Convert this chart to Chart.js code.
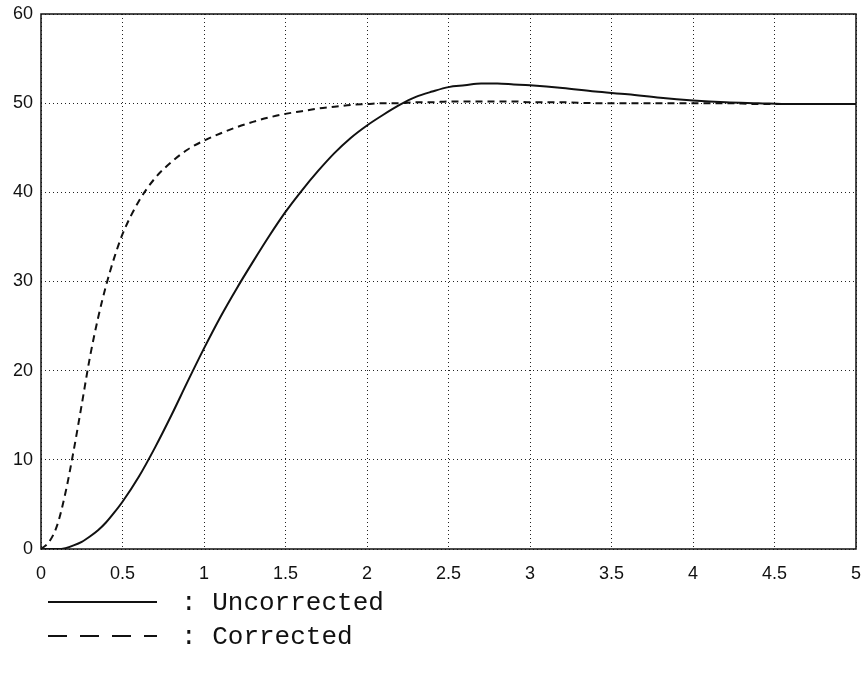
<!DOCTYPE html>
<html>
<head>
<meta charset="utf-8">
<script src="https://cdn.jsdelivr.net/npm/chart.js@4"></script>
<style>
  body { margin: 0; background: #fff; }
  #wrap { position: relative; width: 862px; height: 697px; }
</style>
</head>
<body>
<div id="wrap"><canvas id="chart"></canvas></div>
<script>
// time axis samples (shared by both curves)
const timeValues = [0, 0.05, 0.1, 0.15, 0.2, 0.25, 0.3, 0.35, 0.4, 0.45, 0.5, 0.6, 0.7, 0.8, 0.9,
    1.0, 1.1, 1.2, 1.3, 1.4, 1.5, 1.6, 1.7, 1.8, 1.9, 2.0, 2.1, 2.2, 2.3, 2.4, 2.5, 2.6, 2.7,
    2.8, 2.9, 3.0, 3.2, 3.4, 3.6, 3.8, 4.0, 4.2, 4.4, 4.6, 4.8, 5.0];

const uncorrectedValues = [0, 0, 0, 0.1, 0.4, 0.8, 1.4, 2.1, 3.0, 4.1, 5.3, 8.1, 11.4, 15.0, 18.8,
    22.5, 26.0, 29.2, 32.2, 35.1, 37.8, 40.2, 42.4, 44.4, 46.1, 47.5, 48.7, 49.8, 50.7, 51.3, 51.8, 52.0, 52.2,
    52.2, 52.1, 52.0, 51.7, 51.3, 51.0, 50.6, 50.3, 50.1, 50.0, 49.9, 49.9, 49.9];

const correctedValues = [0, 0.8, 2.7, 6.3, 11.0, 16.2, 21.5, 25.9, 29.6, 32.7, 35.3, 39.0, 41.6, 43.4, 44.8,
    45.8, 46.6, 47.3, 47.9, 48.4, 48.8, 49.1, 49.4, 49.6, 49.8, 49.9, 50.0, 50.0, 50.1, 50.1, 50.2, 50.2, 50.2,
    50.2, 50.2, 50.1, 50.1, 50.0, 50.0, 50.0, 50.0, 50.0, 49.9, 49.9, 49.9, 49.9];

const seriesLabels = ["Uncorrected", "Corrected"];
const xTickLabels = ["0", "0.5", "1", "1.5", "2", "2.5", "3", "3.5", "4", "4.5", "5"];
const yTickLabels = ["0", "10", "20", "30", "40", "50", "60"];

function toPoints(ys) {
    return ys.map((y, i) => ({ x: timeValues[i], y: y }));
}

// box around the plot + the legend drawn under the axis
const framePlugin = {
    id: "frame",
    afterDraw(chart) {
        const ctx = chart.ctx;
        const a = chart.chartArea;
        ctx.save();
        ctx.strokeStyle = "#111";
        ctx.lineWidth = 1.5;
        ctx.setLineDash([]);
        ctx.strokeRect(a.left, a.top, a.right - a.left, a.bottom - a.top);

        const rows = [
            { y: 602, dash: [], text: ": " + seriesLabels[0] },
            { y: 636, dash: [19, 13], text: ": " + seriesLabels[1] }
        ];
        rows.forEach(r => {
            ctx.beginPath();
            ctx.setLineDash(r.dash);
            ctx.lineWidth = 2;
            ctx.moveTo(48, r.y);
            ctx.lineTo(157, r.y);
            ctx.stroke();
            ctx.setLineDash([]);
            ctx.fillStyle = "#111";
            ctx.font = "26px 'Liberation Mono', monospace";
            ctx.textBaseline = "middle";
            ctx.fillText(r.text, 181, r.y + 1);
        });
        ctx.restore();
    }
};

const ctx = document.getElementById("chart").getContext("2d");
new Chart(ctx, {
    type: "line",
    data: {
        datasets: [{
            label: seriesLabels[0],
            data: toPoints(uncorrectedValues),
            borderColor: "#111",
            borderWidth: 2,
            pointRadius: 0,
            cubicInterpolationMode: "monotone",
            fill: false
        }, {
            label: seriesLabels[1],
            data: toPoints(correctedValues),
            borderColor: "#111",
            borderWidth: 2,
            borderDash: [7, 5],
            pointRadius: 0,
            cubicInterpolationMode: "monotone",
            fill: false
        }]
    },
    options: {
        responsive: true,
        maintainAspectRatio: false,
        animation: false,
        layout: { padding: { left: 0, top: 14, right: 6, bottom: 0 } },
        plugins: {
            legend: { display: false },
            tooltip: { enabled: false }
        },
        scales: {
            x: {
                type: "linear",
                min: 0,
                max: 5,
                ticks: {
                    stepSize: 0.5,
                    padding: 14,
                    color: "#111",
                    maxRotation: 0,
                    font: { family: "'Liberation Sans', Arial, sans-serif", size: 18 },
                    callback: (v, i) => xTickLabels[i]
                },
                grid: { color: "#222", lineWidth: 1, drawTicks: false },
                border: { display: false, dash: [1, 3] },
                afterFit(scale) {
                    scale.height = 148;
                    scale.paddingLeft = 0;
                    scale.paddingRight = 0;
                }
            },
            y: {
                min: 0,
                max: 60,
                ticks: {
                    stepSize: 10,
                    padding: 8,
                    color: "#111",
                    font: { family: "'Liberation Sans', Arial, sans-serif", size: 18 },
                    callback: (v, i) => yTickLabels[i]
                },
                grid: { color: "#222", lineWidth: 1, drawTicks: false },
                border: { display: false, dash: [1, 3] },
                afterFit(scale) {
                    scale.width = 41;
                    scale.paddingTop = 0;
                    scale.paddingBottom = 0;
                }
            }
        }
    },
    plugins: [framePlugin]
});
</script>
</body>
</html>
